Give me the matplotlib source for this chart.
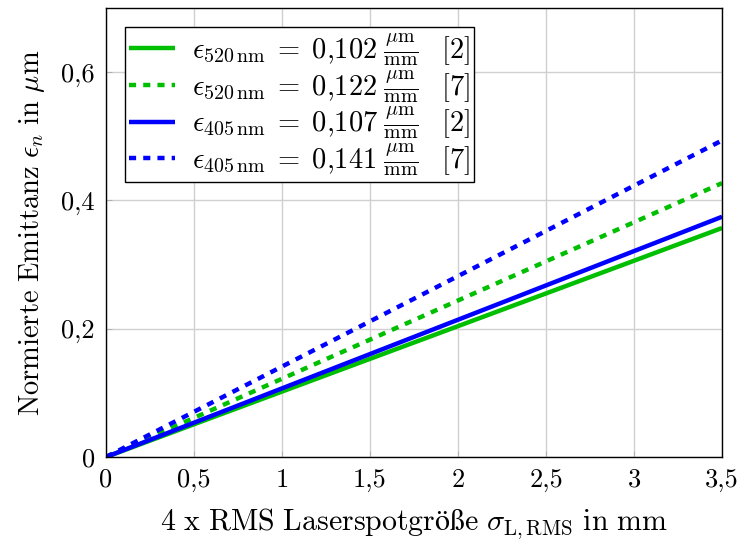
import numpy as np
import matplotlib
matplotlib.use("Agg")
import matplotlib.pyplot as plt

# data
slopes = [0.102, 0.122, 0.107, 0.141]
wavelengths = ["520", "520", "405", "405"]
refs = ["2", "7", "2", "7"]
x_end = 3.5
x_ticks = [0, 0.5, 1, 1.5, 2, 2.5, 3, 3.5]
x_ticklabels = ["0", "0,5", "1", "1,5", "2", "2,5", "3", "3,5"]
y_ticks = [0, 0.2, 0.4, 0.6]
y_ticklabels = ["0", "0,2", "0,4", "0,6"]

colors = ["#00bf00", "#00bf00", "#0000ff", "#0000ff"]
styles = ["solid", "dashed", "solid", "dashed"]

plt.rcParams["mathtext.fontset"] = "cm"
plt.rcParams["font.family"] = ["cmr10", "DejaVu Serif"]
plt.rcParams["axes.unicode_minus"] = False

fig = plt.figure(figsize=(7.4, 5.47), dpi=100)
ax = fig.add_axes([0.1432, 0.1645, 0.9757 - 0.1432, 0.9854 - 0.1645])

x = np.array([0.0, x_end])
for s, wl, r, c, st in zip(slopes, wavelengths, refs, colors, styles):
    lbl = (r"$\epsilon_{%s\,\mathrm{nm}} \;=\; %s\;\frac{\mu\mathrm{m}}{\mathrm{mm}}\;\;\;\mathrm{[%s]}$"
           % (wl, ("%.3f" % s).replace(".", "{,}"), r))
    line, = ax.plot(x, s * x, color=c, lw=3.2, label=lbl, solid_capstyle="butt")
    if st == "dashed":
        line.set_dashes((1.6, 1.6))
        line.set_dash_capstyle("butt")

ax.set_xlim(0, 3.5)
ax.set_ylim(0, 0.7)
ax.set_xticks(x_ticks)
ax.set_xticklabels(x_ticklabels)
ax.set_yticks(y_ticks)
ax.set_yticklabels(y_ticklabels)
ax.tick_params(labelsize=19, direction="in", length=4, width=0.6, color="#aaaaaa", pad=8)
ax.grid(True, color="#d0d0d0", lw=1.0)
ax.set_axisbelow(True)
for sp in ax.spines.values():
    sp.set_linewidth(1.0)
    sp.set_color("black")

ax.set_xlabel(r"$\mathrm{4\ x\ RMS\ Laserspotgröße}\ \sigma_{\mathrm{L,RMS}}\ \mathrm{in\ mm}$",
              fontsize=21.5, labelpad=10)
ax.set_ylabel(r"$\mathrm{Normierte\ Emittanz}\ \epsilon_n\ \mathrm{in}\ \mu\mathrm{m}$",
              fontsize=20.5, labelpad=10)

leg = ax.legend(loc="upper left", bbox_to_anchor=(0.031, 0.958), fontsize=20.5, frameon=True,
                fancybox=False, edgecolor="black", framealpha=1, handlelength=1.6,
                labelspacing=0.0, borderpad=0.15, handletextpad=0.6, borderaxespad=0.0)
leg.get_frame().set_linewidth(1.0)

fig.savefig("out.png", dpi=100)
